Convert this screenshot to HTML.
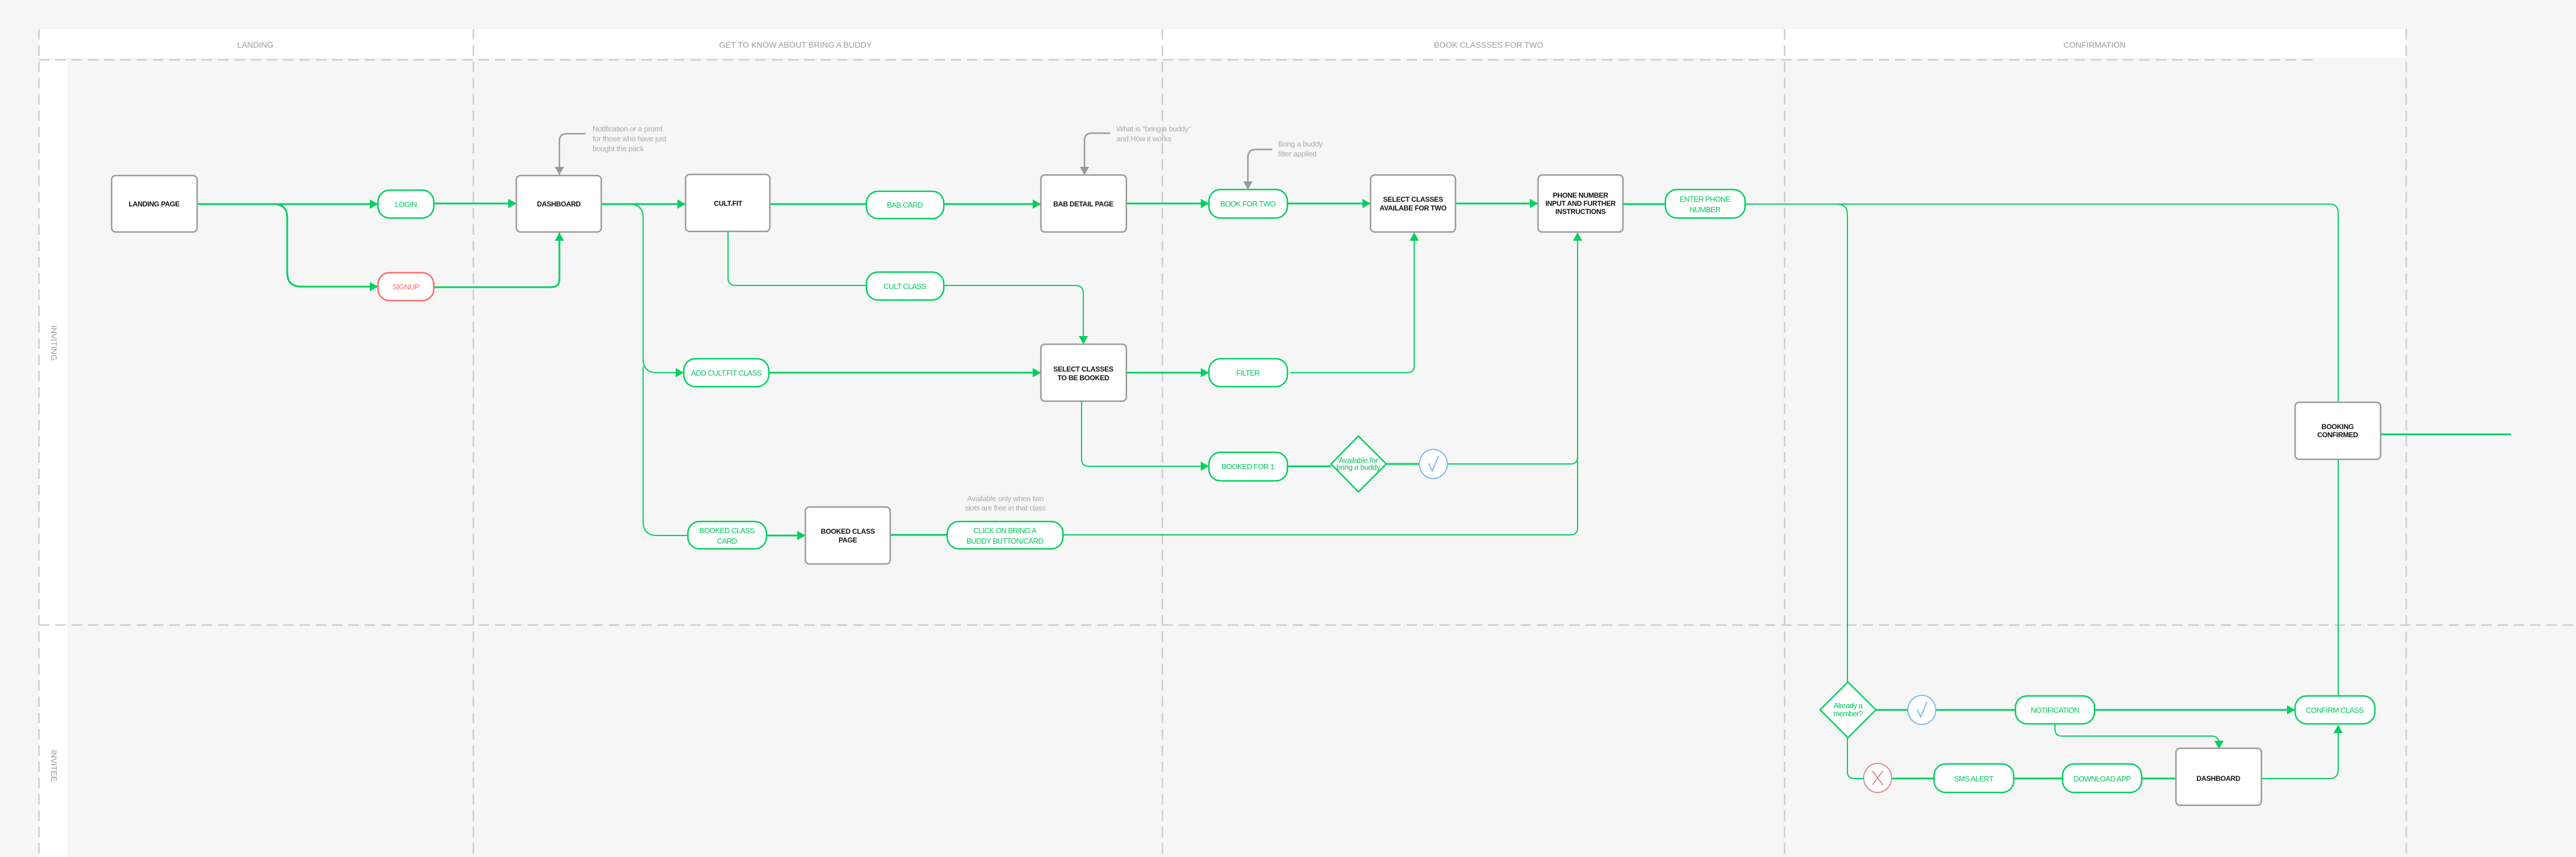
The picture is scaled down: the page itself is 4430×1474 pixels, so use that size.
<!DOCTYPE html>
<html><head><meta charset="utf-8"><style>
html,body{margin:0;padding:0;background:#f6f6f6;}
svg{display:block;}
text{font-family:"Liberation Sans",sans-serif;}
.bx{fill:#fff;stroke:#999;stroke-width:2.5;}
.pl{fill:#fff;stroke:#00d060;stroke-width:2.5;}
.g{fill:none;stroke:#00d060;stroke-width:3;}
.gt{fill:none;stroke:#00d060;stroke-width:2;}
.gr{fill:none;stroke:#999;stroke-width:2.5;}
.bl{font-size:12px;font-weight:bold;fill:#111;text-anchor:middle;letter-spacing:-0.3px;}
.pt{font-size:13px;fill:#00c85a;text-anchor:middle;letter-spacing:-0.6px;}
.hd{font-size:14px;fill:#999;text-anchor:middle;}
.nt{font-size:13px;fill:#aaa;letter-spacing:-0.3px;}
.dl{stroke:#ccc;stroke-width:2.5;stroke-dasharray:18 10;fill:none;}
</style></head><body>
<svg width="4430" height="1474" viewBox="0 0 4430 1474" xmlns="http://www.w3.org/2000/svg">
<defs>
<marker id="a" markerUnits="userSpaceOnUse" markerWidth="16" markerHeight="18" refX="14" refY="9" orient="auto"><path d="M0,1 L14,9 L0,17 Z" fill="#00d060"/></marker>
<marker id="ag" markerUnits="userSpaceOnUse" markerWidth="16" markerHeight="18" refX="14" refY="9" orient="auto"><path d="M0,1 L14,9 L0,17 Z" fill="#999"/></marker>
</defs>
<rect x="0" y="0" width="4430" height="1474" fill="#f6f6f6"/>
<rect x="67" y="50" width="4071" height="50" fill="#fff"/>
<rect x="67" y="103" width="49" height="1371" fill="#fff"/>
<line class="dl" x1="67" y1="103" x2="3985" y2="103"/>
<line class="dl" x1="67" y1="1075" x2="4430" y2="1075"/>
<line class="dl" x1="67" y1="50" x2="67" y2="1474"/>
<line class="dl" x1="814" y1="50" x2="814" y2="1474"/>
<line class="dl" x1="1999" y1="50" x2="1999" y2="1474"/>
<line class="dl" x1="3069" y1="50" x2="3069" y2="1474"/>
<line class="dl" x1="4138" y1="50" x2="4138" y2="1474"/>
<text class="hd" x="439" y="82">LANDING</text>
<text class="hd" x="1368" y="82">GET TO KNOW ABOUT BRING A BUDDY</text>
<text class="hd" x="2560" y="82">BOOK CLASSSES FOR TWO</text>
<text class="hd" x="3602" y="82">CONFIRMATION</text>
<text class="hd" font-size="12" transform="translate(88,590) rotate(90)">INVITING</text>
<text class="hd" font-size="12" transform="translate(88,1317) rotate(90)">INVITEE</text>

<path class="g" d="M339,351 H650" marker-end="url(#a)"/>
<path class="g" d="M470,351 Q494,351 494,375 V469 Q494,493 518,493 H650" marker-end="url(#a)"/>
<path class="g" d="M746,350 H888" marker-end="url(#a)"/>
<path class="g" d="M746,494 H948 Q962,494 962,480 V400" marker-end="url(#a)"/>
<path class="g" d="M1034,351 H1179" marker-end="url(#a)"/>
<path class="gt" d="M1082,351 Q1106,351 1106,375 V617 Q1106,641 1130,641 H1176" marker-end="url(#a)"/>
<path class="gt" d="M1106,630 V897 Q1106,921 1130,921 H1183"/>
<path class="g" d="M1324,351 H1490 M1623,351 H1790" marker-end="url(#a)"/>
<path class="gt" d="M1252,398 V478 Q1252,491 1266,491 H1490"/>
<path class="gt" d="M1623,491 H1850 Q1863,491 1863,505 V592" marker-end="url(#a)"/>
<path class="g" d="M1937,350 H2079" marker-end="url(#a)"/>
<path class="g" d="M2214,350 H2357" marker-end="url(#a)"/>
<path class="g" d="M2503,350 H2645" marker-end="url(#a)"/>
<path class="g" d="M2791,351 H2864"/>
<path class="gt" d="M3001,351 H4006 Q4021,351 4021,366 V692"/>
<path class="gt" d="M3159,351 Q3177,351 3177,369 V1173"/>
<path class="g" d="M1322,641 H1790" marker-end="url(#a)"/>
<path class="g" d="M1937,641 H2079" marker-end="url(#a)"/>
<path class="gt" d="M2219,641 H2420 Q2432,641 2432,629 V400" marker-end="url(#a)"/>
<path class="gt" d="M1860,690 V790 Q1860,802 1872,802 H2079" marker-end="url(#a)"/>
<path class="g" d="M2214,802 H2289 M2384,798 H2440"/>
<path class="gt" d="M2489,798 H2701 Q2713,798 2713,786 V400" marker-end="url(#a)"/>
<path class="g" d="M1318,921 H1385" marker-end="url(#a)"/>
<path class="g" d="M1531,920 H1629"/>
<path class="gt" d="M1828,920 H2701 Q2713,920 2713,908 V780"/>
<path class="g" d="M4094,747 H4318"/>
<path class="gt" d="M4021,790 V1197"/>
<path class="g" d="M3226,1221 H3280 M3330,1221 H3466"/>
<path class="g" d="M3602,1221 H3947" marker-end="url(#a)"/>
<path class="gt" d="M3534,1245 V1254 Q3534,1266 3546,1266 H3803 Q3816,1266 3816,1279 V1288" marker-end="url(#a)"/>
<path class="gt" d="M3177,1269 V1327 Q3177,1339 3189,1339 H3205"/>
<path class="g" d="M3254,1339 H3326 M3463,1339 H3547 M3683,1339 H3742"/>
<path class="gt" d="M3889,1339 H4006 Q4021,1339 4021,1324 V1247" marker-end="url(#a)"/>
<path class="gr" d="M1007,230 H975 Q962,230 962,243 V301" marker-end="url(#ag)"/>
<path class="gr" d="M1909,229 H1878 Q1865,229 1865,242 V301" marker-end="url(#ag)"/>
<path class="gr" d="M2188,257 H2160 Q2146,257 2146,271 V326" marker-end="url(#ag)"/>
<text class="nt" x="1019" y="226">Notification or a promt</text>
<text class="nt" x="1019" y="243">for those who have just</text>
<text class="nt" x="1019" y="260">bought the pack</text>
<text class="nt" x="1920" y="226">What is "bring a buddy"</text>
<text class="nt" x="1920" y="243">and How it works</text>
<text class="nt" x="2198" y="252">Bring a buddy</text>
<text class="nt" x="2198" y="269">filter applied</text>
<text class="nt" x="1729" y="862" font-size="11" text-anchor="middle">Available only when two</text>
<text class="nt" x="1729" y="878" font-size="11" text-anchor="middle">slots are free in that class</text>

<rect class="bx" x="192" y="302" width="147" height="97" rx="7"/><text class="bl" x="265" y="355">LANDING PAGE</text>
<rect class="bx" x="888" y="302" width="146" height="97" rx="7"/><text class="bl" x="961" y="355">DASHBOARD</text>
<rect class="bx" x="1179" y="300" width="145" height="98" rx="7"/><text class="bl" x="1252" y="354">CULT.FIT</text>
<rect class="bx" x="1790" y="301" width="147" height="98" rx="7"/><text class="bl" x="1863" y="355">BAB DETAIL PAGE</text>
<rect class="bx" x="2357" y="301" width="146" height="98" rx="7"/><text class="bl" x="2430" y="347">SELECT CLASSES</text><text class="bl" x="2430" y="362">AVAILABE FOR TWO</text>
<rect class="bx" x="2645" y="301" width="146" height="98" rx="7"/><text class="bl" x="2718" y="340">PHONE NUMBER</text><text class="bl" x="2718" y="354">INPUT AND FURTHER</text><text class="bl" x="2718" y="368">INSTRUCTIONS</text>
<rect class="bx" x="1790" y="592" width="147" height="98" rx="7"/><text class="bl" x="1863" y="639">SELECT CLASSES</text><text class="bl" x="1863" y="654">TO BE BOOKED</text>
<rect class="bx" x="1385" y="872" width="146" height="98" rx="7"/><text class="bl" x="1458" y="918">BOOKED CLASS</text><text class="bl" x="1458" y="933">PAGE</text>
<rect class="bx" x="3947" y="692" width="147" height="98" rx="7"/><text class="bl" x="4020" y="738">BOOKING</text><text class="bl" x="4020" y="752">CONFIRMED</text>
<rect class="bx" x="3742" y="1287" width="147" height="98" rx="7"/><text class="bl" x="3815" y="1343">DASHBOARD</text>

<rect class="pl" x="650" y="327" width="96" height="48" rx="20"/><text class="pt" x="698" y="356">LOGIN</text>
<rect x="650" y="469" width="96" height="48" rx="20" fill="#fff" stroke="#ff6b6b" stroke-width="2.5"/><text class="pt" x="698" y="498" style="fill:#ff6b6b">SIGNUP</text>
<rect class="pl" x="1490" y="329" width="133" height="47" rx="20"/><text class="pt" x="1556" y="357">BAB CARD</text>
<rect class="pl" x="1490" y="468" width="133" height="48" rx="20"/><text class="pt" x="1556" y="497">CULT CLASS</text>
<rect class="pl" x="1176" y="617" width="146" height="48" rx="20"/><text class="pt" x="1249" y="646" font-size="12">ADD CULT.FIT CLASS</text>
<rect class="pl" x="2079" y="326" width="135" height="49" rx="20"/><text class="pt" x="2146" y="355">BOOK FOR TWO</text>
<rect class="pl" x="2079" y="617" width="135" height="48" rx="20"/><text class="pt" x="2146" y="646">FILTER</text>
<rect class="pl" x="2079" y="778" width="135" height="49" rx="20"/><text class="pt" x="2146" y="807">BOOKED FOR 1</text>
<rect class="pl" x="1183" y="897" width="135" height="47" rx="20"/><text class="pt" x="1250" y="917">BOOKED CLASS</text><text class="pt" x="1250" y="935">CARD</text>
<rect class="pl" x="1629" y="897" width="199" height="47" rx="20"/><text class="pt" x="1728" y="917">CLICK ON BRING A</text><text class="pt" x="1728" y="935">BUDDY BUTTON/CARD</text>
<rect class="pl" x="2864" y="326" width="137" height="49" rx="20"/><text class="pt" x="2932" y="347">ENTER PHONE</text><text class="pt" x="2932" y="365">NUMBER</text>
<rect class="pl" x="3466" y="1197" width="136" height="48" rx="20"/><text class="pt" x="3534" y="1226">NOTIFICATION</text>
<rect class="pl" x="3947" y="1197" width="137" height="48" rx="20"/><text class="pt" x="4015" y="1226">CONFIRM CLASS</text>
<rect class="pl" x="3326" y="1314" width="137" height="49" rx="20"/><text class="pt" x="3394" y="1344">SMS ALERT</text>
<rect class="pl" x="3547" y="1314" width="136" height="49" rx="20"/><text class="pt" x="3615" y="1344">DOWNLOAD APP</text>

<path d="M2336,750 L2384,798 L2336,846 L2289,798 Z" fill="#fff" stroke="#00d060" stroke-width="2.5"/>
<text class="pt" x="2336" y="796" font-size="8" style="letter-spacing:-0.3px">Available for</text><text class="pt" x="2336" y="808" font-size="8" style="letter-spacing:-0.3px">bring a buddy</text>
<path d="M3178,1173 L3226,1221 L3178,1269 L3130,1221 Z" fill="#fff" stroke="#00d060" stroke-width="2.5"/>
<text class="pt" x="3178" y="1218" font-size="10">Already a</text><text class="pt" x="3178" y="1232" font-size="10">member?</text>

<ellipse cx="2465" cy="798" rx="24" ry="25" fill="#fff" stroke="#7ab8f5" stroke-width="2"/>
<path d="M2457,797 L2463,810 L2474,784" fill="none" stroke="#7ab8f5" stroke-width="2"/>
<ellipse cx="3305" cy="1221" rx="24" ry="25" fill="#fff" stroke="#7ab8f5" stroke-width="2"/>
<path d="M3297,1220 L3303,1233 L3314,1207" fill="none" stroke="#7ab8f5" stroke-width="2"/>
<ellipse cx="3229" cy="1338" rx="24" ry="25" fill="#fff" stroke="#e08a8a" stroke-width="2"/>
<path d="M3220,1326 L3238,1350 M3238,1326 L3220,1350" fill="none" stroke="#e08a8a" stroke-width="2"/>
</svg>
</body></html>
